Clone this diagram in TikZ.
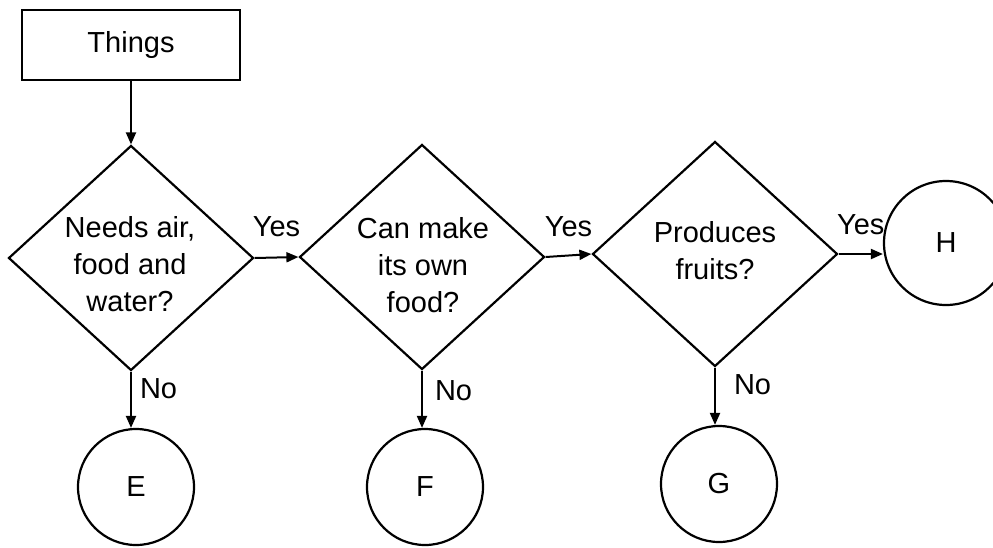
\documentclass[tikz,border=0pt]{standalone}
\usepackage{fontspec}
\setmainfont{Liberation Sans}
\usetikzlibrary{shapes.geometric,arrows.meta}
\begin{document}
\begin{tikzpicture}[x=1pt,y=-1pt,
  line width=2.2pt,
  txt/.style={font=\fontsize{29}{37}\selectfont, align=center, inner sep=0pt},
  box/.style={draw, minimum width=218pt, minimum height=70pt, inner sep=0pt, txt},
  dia/.style={draw, diamond, minimum width=245pt, minimum height=225pt, inner sep=0pt},
  endc/.style={draw, circle, minimum size=116pt, inner sep=0pt, txt},
  arr/.style={-{Triangle[length=12pt,width=10pt]}, line width=2pt},
]
\clip (0,0) rectangle (993,547);
\useasboundingbox (0,0) rectangle (993,547);

\node[box] (things) at (131,45) {Things};

\node[dia] (d1) at (131,258) {};
\node[txt] (q1) at (130,264) {Needs air,\\food and\\water?};
\node[dia] (d2) at (422,257) {};
\node[txt] (q2) at (423,265) {Can make\\its own\\food?};
\node[dia] (d3) at (715,254) {};
\node[txt] (q3) at (715,251) {Produces\\fruits?};

\node[endc] (E) at (136,487) {E};
\node[endc] (F) at (425,487) {F};
\node[endc] (G) at (719,484) {G};
\node[endc, minimum size=124pt] (H) at (946,243) {H};

\draw[arr] (things.south) -- (d1.north);
\draw[arr] (d1.east) -- (d2.west) node[txt, midway, above=20pt] (y1) {Yes};
\draw[arr] (d2.east) -- (d3.west) node[txt, midway, above=18pt] (y2) {Yes};
\draw[arr] (d3.east) -- (d3.east -| H.west) node[txt, midway, above=18pt] (y3) {Yes};

\draw[arr] (d1.south) -- (d1.south |- E.north) node[txt, pos=0.3, right=8pt] (n1) {No};
\draw[arr] (d2.south) -- (d2.south |- F.north) node[txt, pos=0.35, right=12pt] (n2) {No};
\draw[arr] (d3.south) -- (d3.south |- G.north) node[txt, pos=0.3, right=18pt] (n3) {No};
\end{tikzpicture}
\end{document}
